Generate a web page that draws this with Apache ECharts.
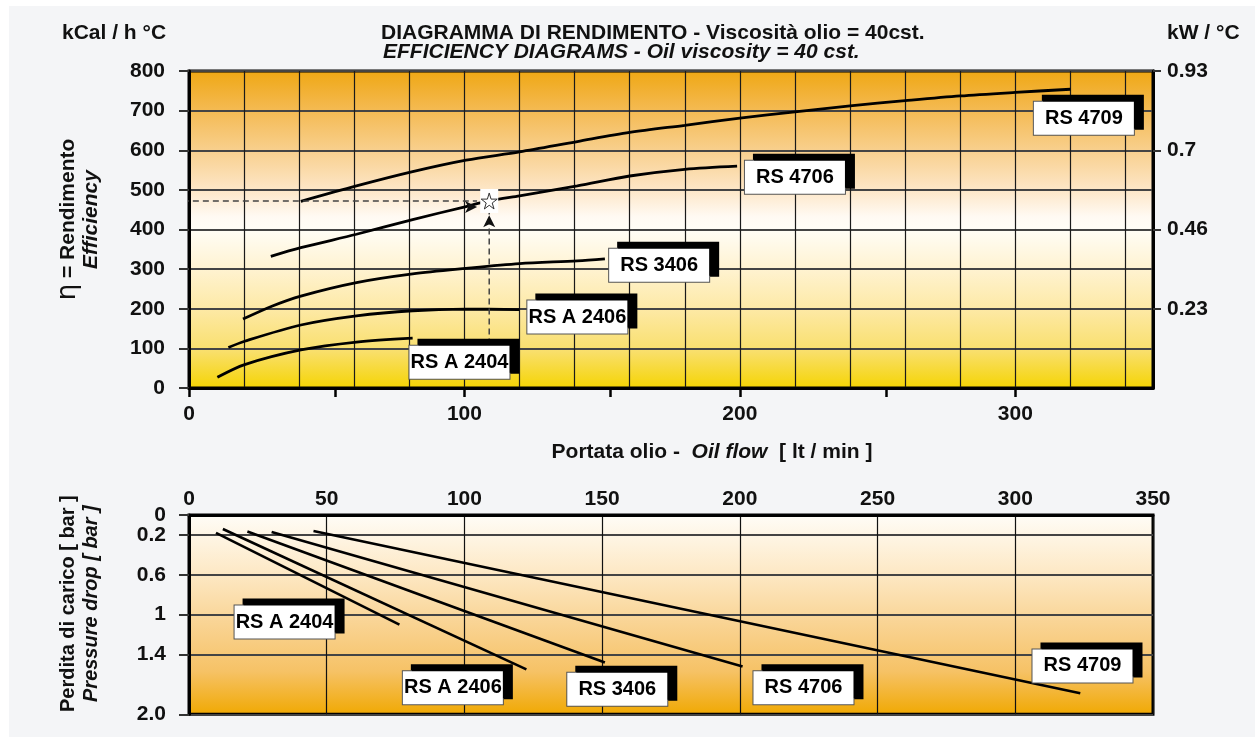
<!DOCTYPE html>
<html>
<head>
<meta charset="utf-8">
<title>Diagramma di rendimento</title>
<script src="https://cdn.jsdelivr.net/npm/echarts@6/dist/echarts.min.js"></script>
<style>
  html, body { margin: 0; padding: 0; background: #fff; }
  #chart {
    width: 1255px; height: 737px;
    background:
      linear-gradient(#fff, #fff) top left / 100% 6px no-repeat,
      linear-gradient(#fff, #fff) top left / 9px 100% no-repeat,
      #f4f5f7;
  }
</style>
</head>
<body>
<div id="chart"></div>
<script>
// rendimento [portata lt/min, kCal/h°C]
const effRS4709 = [[40.6, 471], [60.8, 510], [81.2, 546], [100.6, 575], [120, 596], [141, 622], [160, 645], [180, 663], [200, 681], [220, 697], [240, 712], [260, 725], [280, 737], [300, 746], [320, 754]]
const effRS4706 = [[29.7, 332], [40.6, 354], [60.8, 388], [81.2, 425], [100.6, 458], [109, 472], [120, 485], [141, 510], [160, 535], [180, 552], [199, 560]]
const effRS3406 = [[19.6, 174], [30.3, 207], [40.6, 232], [60.8, 266], [81.2, 288], [100.6, 302], [120, 314], [141, 321], [151, 326]]
const effRSA2406 = [[14.3, 102], [20.2, 118], [40.6, 159], [60.8, 182], [81.2, 195], [100.6, 199], [120, 198]]
const effRSA2404 = [[10.3, 27], [20.2, 59], [40.6, 96], [60.8, 116], [81.2, 126]]

// perdita di carico [portata lt/min, bar]
const dropRSA2404 = [[9.8, 0.18], [76.4, 1.10]]
const dropRSA2406 = [[12.3, 0.14], [122.5, 1.55]]
const dropRS3406 = [[21.2, 0.165], [151, 1.48]]
const dropRS4706 = [[30, 0.17], [201, 1.52]]
const dropRS4709 = [[45.2, 0.16], [323.6, 1.79]]

// etichette [x, y, nome]
const effTags = [[324.9, 681, 'RS 4709'], [220, 532, 'RS 4706'], [170.7, 310, 'RS 3406'], [141, 179, 'RS A 2406'], [98.2, 65, 'RS A 2404']]
const dropTags = [[34.7, 1.074, 'RS A 2404'], [95.8, 1.733, 'RS A 2406'], [155.5, 1.748, 'RS 3406'], [223.1, 1.733, 'RS 4706'], [324.4, 1.515, 'RS 4709']]

// punto di lavoro (esempio) e linee guida
const opPoint = [109, 472]
const guideH = [[-9.5, 472], [104.6, 472]]
const guideV = [[109, 110], [109, 451]]

// assi
const xTickValues = [0, 53, 100, 153, 200, 253, 300]
const xLabelValues = [0, 100, 200, 300]
const rightTickValues = [200, 400, 600, 800]
const rightTickLabels = ['0.23', '0.46', '0.7', '0.93']
const dropTickValues = [0, 0.2, 0.6, 1, 1.4, 2]
const dropLabelValues = [0.2, 0.6, 1, 1.4, 2]
const dropLabelTexts = ['0.2', '0.6', '1', '1.4', '2.0']
const dropZeroLabel = [0]

const FONT = '"Liberation Sans", Arial, sans-serif'
const INK = '#111'
const STAR = 'path://M50,0 L61,35 L98,35 L68,57 L79,91 L50,70 L21,91 L32,57 L2,35 L39,35 Z'

let tickFont = { fontFamily: FONT, fontSize: 21, fontWeight: 'bold', color: INK }

let boxLabel = {
  show: true,
  position: 'inside',
  formatter: p => p.data[2],
  fontFamily: FONT,
  fontSize: 20,
  fontWeight: 'bold',
  color: '#000',
  opacity: 1,
  backgroundColor: '#fff',
  borderColor: '#555',
  borderWidth: 1,
  width: 100,
  height: 33,
  lineHeight: 33,
  align: 'center',
  verticalAlign: 'middle',
  shadowColor: '#000',
  shadowBlur: 0,
  shadowOffsetX: 9,
  shadowOffsetY: -6
}

function curve (name, data) {
  return {
    name: name, type: 'line', xAxisIndex: 1, yAxisIndex: 0,
    data: data, smooth: 0.3, showSymbol: false, z: 3,
    lineStyle: { color: '#000', width: 2.8 }
  }
}

function dropLine (name, data) {
  return {
    name: name, type: 'line', xAxisIndex: 2, yAxisIndex: 2,
    data: data, showSymbol: false, z: 3,
    lineStyle: { color: '#000', width: 2.6 }
  }
}

function tags (data, xi, yi) {
  return {
    type: 'scatter', xAxisIndex: xi, yAxisIndex: yi, data: data,
    symbolSize: 1, itemStyle: { color: 'rgba(0,0,0,0)', opacity: 1 }, z: 6,
    label: boxLabel, silent: true
  }
}

function guide (data) {
  return {
    type: 'line', xAxisIndex: 1, yAxisIndex: 0, data: data, clip: false, z: 4,
    showSymbol: false, silent: true,
    lineStyle: { color: '#444', type: [6, 4], width: 1.5 }
  }
}

function arrowHead (point, rotate) {
  return {
    type: 'scatter', xAxisIndex: 1, yAxisIndex: 0, data: [point], z: 4, silent: true,
    symbol: 'arrow', symbolSize: [9, 12], symbolRotate: rotate, symbolOffset: [0, 6],
    itemStyle: { color: '#111', opacity: 1 }
  }
}

let myChart = echarts.init(document.getElementById('chart'))

let option = {
  animation: false,
  title: [
    { text: 'DIAGRAMMA DI RENDIMENTO - Viscosità olio = 40cst.', left: 381, top: 23, padding: 0,
      textStyle: { fontFamily: FONT, fontSize: 21, fontWeight: 'bold', color: INK, lineHeight: 21 } },
    { text: 'EFFICIENCY DIAGRAMS - Oil viscosity = 40 cst.', left: 383, top: 42, padding: 0,
      textStyle: { fontFamily: FONT, fontSize: 21, fontWeight: 'bold', fontStyle: 'italic', color: INK, lineHeight: 21 } },
    { text: 'kCal / h °C', left: 62, top: 23, padding: 0,
      textStyle: { fontFamily: FONT, fontSize: 21, fontWeight: 'bold', color: INK, lineHeight: 21 } },
    { text: 'kW / °C', left: 1167, top: 23, padding: 0,
      textStyle: { fontFamily: FONT, fontSize: 21, fontWeight: 'bold', color: INK, lineHeight: 21 } }
  ],
  grid: [
    {
      left: 189, top: 71, width: 964, height: 317,
      show: true, borderColor: '#000', borderWidth: 3,
      backgroundColor: new echarts.graphic.LinearGradient(0, 0, 0, 1, [
        { offset: 0, color: '#efa712' },
        { offset: 0.12, color: '#f4b94f' },
        { offset: 0.25, color: '#f8cf8c' },
        { offset: 0.37, color: '#fde5c4' },
        { offset: 0.46, color: '#fffaf3' },
        { offset: 0.5, color: '#fffdf6' },
        { offset: 0.62, color: '#fff3d2' },
        { offset: 0.75, color: '#fde9a5' },
        { offset: 0.88, color: '#f9df6c' },
        { offset: 1, color: '#f5d400' }
      ])
    },
    {
      left: 189, top: 515, width: 964, height: 202,
      show: true, borderColor: '#000', borderWidth: 3,
      backgroundColor: new echarts.graphic.LinearGradient(0, 0, 0, 1, [
        { offset: 0, color: '#fffdf8' },
        { offset: 0.3, color: '#fde8c4' },
        { offset: 0.55, color: '#f9d392' },
        { offset: 0.78, color: '#f6c266' },
        { offset: 1, color: '#f0a800' }
      ])
    }
  ],
  xAxis: [
    {
      // griglia verticale ogni 20 lt/min
      gridIndex: 0, type: 'value', min: 0, max: 350, interval: 20, position: 'bottom',
      axisLine: { show: false }, axisTick: { show: false }, axisLabel: { show: false },
      splitLine: { show: true, lineStyle: { color: '#1a1a1a', width: 1.2 } }
    },
    {
      gridIndex: 0, type: 'value', min: 0, max: 350, position: 'bottom',
      axisLine: { show: true, onZero: false, lineStyle: { color: '#000', width: 3 } },
      axisTick: { show: true, customValues: xTickValues, length: 9, lineStyle: { color: '#000', width: 2.5 } },
      axisLabel: Object.assign({ customValues: xLabelValues, margin: 16, showMinLabel: true }, tickFont),
      splitLine: { show: false },
      name: '{b|Portata olio -  }{i|Oil flow}{b|  [ lt / min ]}',
      nameLocation: 'middle',
      nameGap: 54,
      nameTextStyle: {
        padding: [0, 0, 0, 82],
        rich: {
          b: { fontFamily: FONT, fontSize: 21, fontWeight: 'bold', color: INK },
          i: { fontFamily: FONT, fontSize: 21, fontWeight: 'bold', fontStyle: 'italic', color: INK }
        }
      }
    },
    {
      gridIndex: 1, type: 'value', min: 0, max: 350, interval: 50, position: 'top',
      axisLine: { show: true, onZero: false, lineStyle: { color: '#000', width: 3 } },
      axisTick: { show: false },
      axisLabel: Object.assign({ margin: 5, showMinLabel: true, showMaxLabel: true }, tickFont),
      splitLine: { show: true, lineStyle: { color: '#111', width: 1.2 } }
    }
  ],
  yAxis: [
    {
      gridIndex: 0, type: 'value', min: 0, max: 800, interval: 100, position: 'left',
      axisLine: { show: true, onZero: false, lineStyle: { color: '#000', width: 3 } },
      axisTick: { show: true, length: 10, lineStyle: { color: '#333', width: 2 } },
      axisLabel: Object.assign({ margin: 24, showMinLabel: true, showMaxLabel: true }, tickFont),
      splitLine: { show: true, lineStyle: { color: '#444', width: 1.8 } },
      name: '{eta|η}{b| = Rendimento}\n{i|Efficiency}',
      nameLocation: 'middle',
      nameRotate: 90,
      nameGap: 86,
      nameTextStyle: {
        lineHeight: 23,
        padding: [0, 0, 0, 20],
        rich: {
          eta: { fontFamily: 'DejaVu Sans', fontSize: 26, color: INK, lineHeight: 23 },
          b: { fontFamily: FONT, fontSize: 21, fontWeight: 'bold', color: INK, lineHeight: 23 },
          i: { fontFamily: FONT, fontSize: 21, fontWeight: 'bold', fontStyle: 'italic', color: INK, lineHeight: 23 }
        }
      }
    },
    {
      gridIndex: 0, type: 'value', min: 0, max: 800, position: 'right',
      axisLine: { show: true, onZero: false, lineStyle: { color: '#000', width: 3 } },
      axisTick: { show: true, customValues: rightTickValues, length: 8, lineStyle: { color: '#333', width: 2 } },
      axisLabel: Object.assign({
        customValues: rightTickValues,
        margin: 14,
        showMaxLabel: true,
        formatter: v => rightTickLabels[rightTickValues.indexOf(v)]
      }, tickFont),
      splitLine: { show: false }
    },
    {
      gridIndex: 1, type: 'value', min: 0, max: 2, inverse: true, position: 'left',
      axisLine: { show: true, onZero: false, lineStyle: { color: '#000', width: 3 } },
      axisTick: { show: true, customValues: dropTickValues, length: 10, lineStyle: { color: '#333', width: 2 } },
      axisLabel: Object.assign({
        customValues: dropLabelValues,
        margin: 23,
        showMinLabel: true,
        showMaxLabel: true,
        formatter: v => dropLabelTexts[dropLabelValues.indexOf(v)]
      }, tickFont),
      splitLine: { show: true, lineStyle: { color: '#444', width: 1.8 } },
      name: '{b|Perdita di carico [ bar ]}\n{i|Pressure drop [ bar ]}',
      nameLocation: 'middle',
      nameRotate: 90,
      nameGap: 86,
      nameTextStyle: {
        lineHeight: 23,
        padding: [0, 0, 0, 22],
        rich: {
          b: { fontFamily: FONT, fontSize: 20, fontWeight: 'bold', color: INK, lineHeight: 23 },
          i: { fontFamily: FONT, fontSize: 20, fontWeight: 'bold', fontStyle: 'italic', color: INK, lineHeight: 23 }
        }
      }
    },
    {
      // solo l'etichetta "0" (altrimenti nascosta perché troppo vicina a 0.2)
      gridIndex: 1, type: 'value', min: 0, max: 2, inverse: true, position: 'left',
      axisLine: { show: false }, axisTick: { show: false }, splitLine: { show: false },
      axisLabel: Object.assign({ customValues: dropZeroLabel, margin: 23, showMinLabel: true }, tickFont)
    }
  ],
  series: [
    curve('RS 4709', effRS4709),
    curve('RS 4706', effRS4706),
    curve('RS 3406', effRS3406),
    curve('RS A 2406', effRSA2406),
    curve('RS A 2404', effRSA2404),
    dropLine('RS A 2404', dropRSA2404),
    dropLine('RS A 2406', dropRSA2406),
    dropLine('RS 3406', dropRS3406),
    dropLine('RS 4706', dropRS4706),
    dropLine('RS 4709', dropRS4709),
    guide(guideH),
    guide(guideV),
    arrowHead(guideH[1], -90),
    arrowHead(guideV[1], 0),
    {
      type: 'scatter', xAxisIndex: 1, yAxisIndex: 0, data: [opPoint], z: 5, silent: true,
      symbol: 'rect', symbolSize: [18, 24], itemStyle: { color: '#fff', opacity: 1 }
    },
    {
      type: 'scatter', xAxisIndex: 1, yAxisIndex: 0, data: [opPoint], z: 5, silent: true,
      symbol: STAR, symbolSize: 16, itemStyle: { color: '#fff', borderColor: '#333', borderWidth: 1, opacity: 1 }
    },
    tags(effTags, 1, 0),
    tags(dropTags, 2, 2)
  ]
}

myChart.setOption(option)
</script>
</body>
</html>
